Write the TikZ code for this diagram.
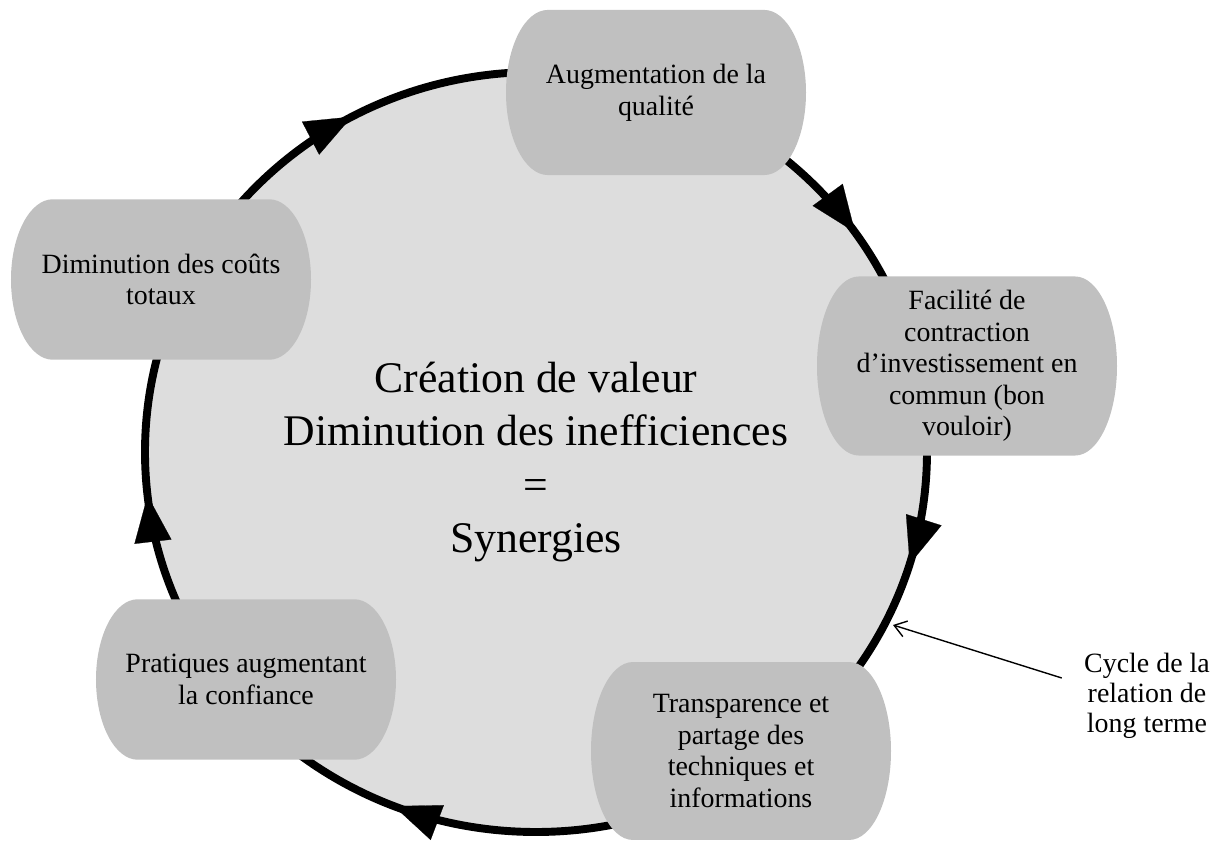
\documentclass[tikz,border=0pt]{standalone}
\usepackage{fontspec}
\setmainfont{Liberation Serif}
\usepackage{tikz}
\usetikzlibrary{calc,arrows.meta,decorations.markings}
\definecolor{ringgray}{HTML}{DDDDDD}
\definecolor{boxgray}{HTML}{C0C0C0}
\tikzstyle{cyclebox}=[rectangle, minimum width=129pt, inner sep=0pt, align=center,
  font=\fontsize{12}{13.6}\selectfont,
  path picture={\fill[boxgray] let \p1=(path picture bounding box.south west),
    \p2=(path picture bounding box.north east) in
    ({\x1+18pt},\y2) -- ({\x2-18pt},\y2)
    arc[start angle=90, end angle=-90, x radius=18pt, y radius={(\y2-\y1)/2}]
    -- ({\x1+18pt},\y1)
    arc[start angle=270, end angle=90, x radius=18pt, y radius={(\y2-\y1)/2}] -- cycle;}]
\tikzstyle{cycleline}=[line width=3.4pt, fill=ringgray]

\begin{document}
\begin{tikzpicture}[x=0.43pt, y=0.43pt]
    \useasboundingbox (0,0) rectangle (1217,845);
    \draw[cycleline, decoration={markings,
        mark=at position 0.153 with {\arrow{Triangle[length=20pt,width=16pt,line width=0.1pt]}},
        mark=at position 0.297 with {\arrow{Triangle[length=20pt,width=16pt,line width=0.1pt]}},
        mark=at position 0.56 with {\arrow{Triangle[length=20pt,width=16pt,line width=0.1pt]}},
        mark=at position 0.732 with {\arrow{Triangle[length=20pt,width=16pt,line width=0.1pt]}},
        mark=at position 0.921 with {\arrow{Triangle[length=20pt,width=16pt,line width=0.1pt]}}},
        postaction={decorate}]
        (536,773) arc[start angle=90, end angle=-270, x radius=391, y radius=380];
    \node[font=\fontsize{18.8}{22.9}\selectfont, align=center] (synergy) at (536,383)
        {Création de valeur\\Diminution des inefficiences\\=\\Synergies};
    \node[cyclebox, minimum height=71pt] (quality) at (656,752.5) {Augmentation de la\\qualité};
    \node[cyclebox, minimum height=77pt] (invest) at (967,479)
        {Facilité de\\contraction\\d’investissement en\\commun (bon\\vouloir)};
    \node[cyclebox, minimum height=76.5pt] (sharing) at (741,94)
        {Transparence et\\partage des\\techniques et\\informations};
    \node[cyclebox, minimum height=69pt] (trust) at (246,165.5) {Pratiques augmentant\\la confiance};
    \node[cyclebox, minimum height=69pt] (costs) at (161,565.5) {Diminution des coûts\\totaux};
    \node[font=\fontsize{12}{12.9}\selectfont, align=center, inner sep=0pt] (cyclelbl) at (1147,149)
        {Cycle de la\\relation de\\long terme};
    \coordinate (cyclept) at (893,220);
    \draw[line width=0.6pt, -{Straight Barb[length=5pt,width=7pt]}]
        ([shift={(-22,18)}]cyclelbl.west) -- (cyclept);
\end{tikzpicture}
\end{document}
